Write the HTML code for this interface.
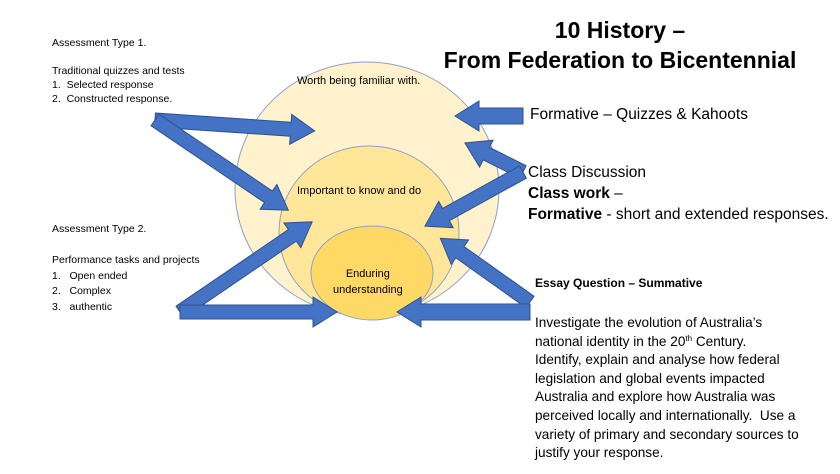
<!DOCTYPE html>
<html><head><style>
body{margin:0;width:840px;height:474px;background:#fff;position:relative;overflow:hidden;font-family:"Liberation Sans",sans-serif;color:#000}
.t{position:absolute;white-space:nowrap}
sup{line-height:0;font-size:8px;vertical-align:5px}
</style></head><body>
<svg width="840" height="474" style="position:absolute;left:0;top:0">
<ellipse cx="367" cy="189" rx="132" ry="127" fill="#fff2cc" stroke="#8ea0c8" stroke-width="1"/>
<ellipse cx="369" cy="232" rx="90" ry="86" fill="#ffe699" stroke="#8ea0c8" stroke-width="1"/>
<ellipse cx="372" cy="273" rx="61" ry="47" fill="#ffd966" stroke="#8ea0c8" stroke-width="1"/>
<g fill="#4472c4" stroke="#2f528f" stroke-width="1">
<g transform="translate(155,120) rotate(3.9)"><polygon points="0,-7 136,-7 136,-15 160,0 136,15 136,7 0,7"/></g>
<g transform="translate(155,120) rotate(34.1)"><polygon points="0,-7 137,-7 137,-15 161,0 137,15 137,7 0,7"/></g>
<g transform="translate(180,312) rotate(-34.3)"><polygon points="0,-7 136,-7 136,-15 160,0 136,15 136,7 0,7"/></g>
<g transform="translate(180,312) rotate(0)"><polygon points="0,-7 133,-7 133,-15 157,0 133,15 133,7 0,7"/></g>
<g transform="translate(523,116) rotate(180)"><polygon points="0,-8 44,-8 44,-15 68,0 44,15 44,8 0,8"/></g>
<g transform="translate(523,172) rotate(206.6)"><polygon points="0,-7 41,-7 41,-15 65,0 41,15 41,7 0,7"/></g>
<g transform="translate(523,172) rotate(151.1)"><polygon points="0,-7 88,-7 88,-15 112,0 88,15 88,7 0,7"/></g>
<g transform="translate(530,302) rotate(215.4)"><polygon points="0,-7 86,-7 86,-15 110,0 86,15 86,7 0,7"/></g>
<g transform="translate(530,312) rotate(180)"><polygon points="0,-8 109,-8 109,-15 133,0 109,15 109,8 0,8"/></g>
</g>
</svg>
<div class="t" style="left:52px;top:36px;font-size:10.5px;line-height:14px">Assessment Type 1.<br><br>Traditional quizzes and tests<br>1.&nbsp;&nbsp;Selected response<br>2.&nbsp;&nbsp;Constructed response.</div>
<div class="t" style="left:52px;top:222px;font-size:10.5px;line-height:15.5px">Assessment Type 2.<br><br>Performance tasks and projects<br>1.&nbsp;&nbsp;&nbsp;Open ended<br>2.&nbsp;&nbsp;&nbsp;Complex<br>3.&nbsp;&nbsp;&nbsp;authentic</div>
<div class="t" style="left:297px;top:75px;font-size:11px">Worth being familiar with.</div>
<div class="t" style="left:297px;top:185px;font-size:11px">Important to know and do</div>
<div class="t" style="left:333px;top:266px;font-size:11px;text-align:center;line-height:16px">Enduring<br>understanding</div>
<div class="t" style="left:420px;top:15px;width:400px;text-align:center;font-size:23px;font-weight:bold;line-height:30px">10 History –<br>From Federation to Bicentennial</div>
<div class="t" style="left:530px;top:106px;font-size:15.5px">Formative – Quizzes &amp; Kahoots</div>
<div class="t" style="left:528px;top:162px;font-size:15.5px;line-height:21px">Class Discussion<br><b>Class work</b> –<br><b>Formative</b> - short and extended responses.</div>
<div class="t" style="left:535px;top:276px;font-size:12px;font-weight:bold">Essay Question – Summative</div>
<div class="t" style="left:535px;top:314px;font-size:13.6px;line-height:18.6px">Investigate the evolution of Australia’s<br>national identity in the 20<sup>th</sup> Century.<br>Identify, explain and analyse how federal<br>legislation and global events impacted<br>Australia and explore how Australia was<br>perceived locally and internationally.&nbsp; Use a<br>variety of primary and secondary sources to<br>justify your response.</div>
</body></html>
